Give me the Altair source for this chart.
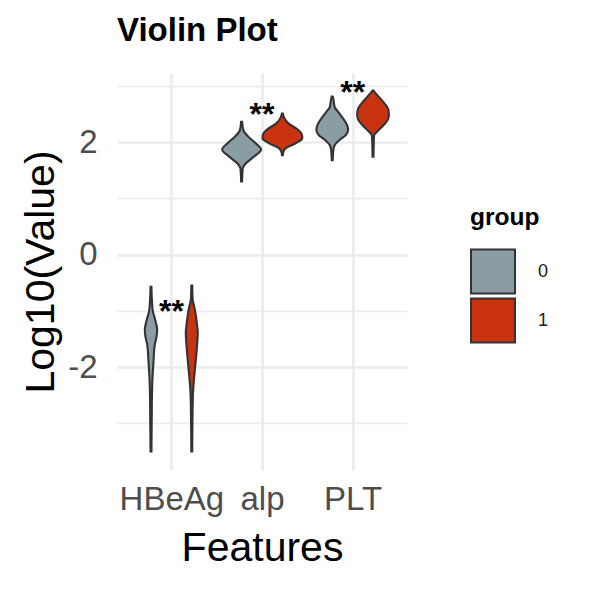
import altair as alt
import pandas as pd

features = ["HBeAg", "alp", "PLT"]
groups = ["0", "1"]
fill_colors = ["#8A9DA4", "#C9330F"]

# Violin outlines: y = Log10(Value), w = half width (category units)
hbeag0_y = [-0.57, -0.80, -1.00, -1.15, -1.33, -1.45, -1.62, -1.92, -2.21, -2.51, -3.00, -3.50]
hbeag0_w = [0.005, 0.010, 0.020, 0.045, 0.068, 0.062, 0.040, 0.027, 0.016, 0.011, 0.008, 0.005]
hbeag1_y = [-0.55, -0.80, -0.91, -1.03, -1.21, -1.39, -1.62, -1.92, -2.21, -2.45, -2.80, -3.50]
hbeag1_w = [0.005, 0.010, 0.025, 0.040, 0.055, 0.066, 0.058, 0.042, 0.025, 0.014, 0.009, 0.005]
alp0_y = [2.36, 2.21, 2.09, 1.98, 1.87, 1.74, 1.62, 1.53, 1.30]
alp0_w = [0.005, 0.020, 0.080, 0.155, 0.215, 0.135, 0.045, 0.012, 0.005]
alp1_y = [2.51, 2.45, 2.33, 2.24, 2.15, 2.07, 1.98, 1.89, 1.83, 1.77]
alp1_w = [0.005, 0.015, 0.070, 0.155, 0.210, 0.220, 0.145, 0.035, 0.012, 0.005]
plt0_y = [2.81, 2.77, 2.62, 2.54, 2.42, 2.30, 2.21, 2.12, 2.04, 1.95, 1.86, 1.68]
plt0_w = [0.005, 0.012, 0.028, 0.065, 0.120, 0.165, 0.175, 0.145, 0.080, 0.028, 0.012, 0.005]
plt1_y = [2.92, 2.89, 2.83, 2.74, 2.65, 2.57, 2.48, 2.39, 2.30, 2.21, 2.12, 1.74]
plt1_w = [0.005, 0.018, 0.050, 0.100, 0.145, 0.170, 0.175, 0.160, 0.115, 0.060, 0.012, 0.005]

star_labels = ["**", "**", "**"]
star_y = [-0.90, 2.61, 2.99]

profiles = [
    ("HBeAg", "0", hbeag0_y, hbeag0_w),
    ("HBeAg", "1", hbeag1_y, hbeag1_w),
    ("alp", "0", alp0_y, alp0_w),
    ("alp", "1", alp1_y, alp1_w),
    ("PLT", "0", plt0_y, plt0_w),
    ("PLT", "1", plt1_y, plt1_w),
]
rows = []
for feat, grp, ys, ws in profiles:
    for yv, wv in zip(ys, ws):
        rows.append({"feature": feat, "fi": features.index(feat) + 1, "group": grp, "y": yv, "w": wv})
vdf = pd.DataFrame(rows)

sdf = pd.DataFrame({"fi": [i + 1 for i in range(len(features))], "sy": star_y, "label": star_labels})

FONT = "Liberation Sans"
label_expr_x = "[" + ",".join("'" + f + "'" for f in features) + "][round(datum.value) - 1]"

x_scale = alt.Scale(domain=[0.4, 3.6], nice=False, zero=False)
y_scale = alt.Scale(domain=[-3.83, 3.23], nice=False, zero=False)

x_axis = alt.Axis(
    values=[1, 2, 3], labelExpr=label_expr_x, title="Features",
    domain=False, ticks=False, tickSize=0, labelFontSize=33, labelColor="#4D4D4D",
    labelFont=FONT, labelPadding=13, labelOverlap=False,
    gridColor="#EBEBEB", gridWidth=2.6,
    titleFont=FONT, titleFontSize=41, titleFontWeight="normal", titleColor="#000000",
    titleX=145, titleY=90, titleBaseline="alphabetic", titleAlign="center",
)
y_axis = alt.Axis(
    values=[-3, -2, -1, 0, 1, 2, 3],
    labelExpr="datum.value % 2 === 0 ? '' + datum.value : ''",
    title="Log10(Value)", domain=False, ticks=False, tickSize=0,
    labelFontSize=33, labelColor="#4D4D4D", labelFont=FONT, labelPadding=20, labelOverlap=False,
    gridColor="#EBEBEB",
    gridWidth={"condition": {"test": "datum.value % 2 === 0", "value": 2.6}, "value": 1.3},
    titleFont=FONT, titleFontSize=41, titleFontWeight="normal", titleColor="#000000",
    titleAngle=270, titleX=-64, titleY=198.5, titleBaseline="alphabetic", titleAlign="center",
)

violins = alt.Chart(vdf).transform_calculate(
    center="datum.fi + (datum.group === '0' ? -0.225 : 0.225)"
).transform_calculate(
    lo="datum.center - datum.w", hi="datum.center + datum.w"
).mark_area(
    orient="horizontal", interpolate="monotone", stroke="#333333", strokeWidth=2.1, opacity=1
).encode(
    y=alt.Y("y:Q", scale=y_scale, axis=y_axis),
    x=alt.X("lo:Q", scale=x_scale, axis=x_axis, stack=None),
    x2="hi:Q",
    color=alt.Color(
        "group:N",
        scale=alt.Scale(domain=groups, range=fill_colors),
        legend=alt.Legend(
            title="group", orient="none", legendX=353, legendY=133,
            symbolType="square", symbolSize=1936, symbolStrokeColor="#333333",
            symbolStrokeWidth=2, symbolOpacity=1,
            titleFont=FONT, titleFontSize=24.5, titleFontWeight="bold", titleColor="#000000",
            titlePadding=18, labelFont=FONT, labelFontSize=18, labelColor="#1A1A1A",
            labelOffset=22, rowPadding=-14, padding=0,
        ),
    ),
    detail="feature:N",
)

stars = alt.Chart(sdf).mark_text(
    font=FONT, fontSize=32, fontWeight="bold", color="#000000", baseline="middle", dy=7
).encode(
    x=alt.X("fi:Q", scale=x_scale),
    y=alt.Y("sy:Q", scale=y_scale),
    text="label:N",
)

chart = alt.layer(violins, stars).properties(
    width=290, height=397,
    title=alt.TitleParams("Violin Plot", anchor="start", frame="group", font=FONT,
                          fontSize=33, fontWeight="bold", color="#000000", offset=22),
    padding={"left": 117, "top": 73, "right": 183, "bottom": 120},
    autosize="none",
).configure(background="white").configure_view(stroke=None)

chart.save("out.html", embed_options={"renderer": "svg", "actions": False})
